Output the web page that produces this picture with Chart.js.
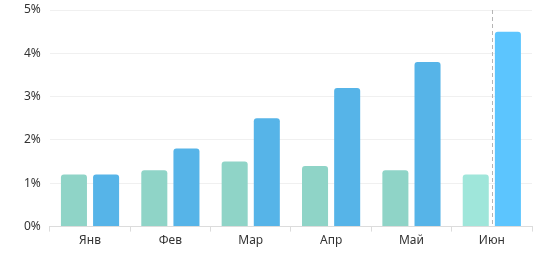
<!DOCTYPE html>
<html><head><meta charset="utf-8">
<script src="https://cdn.jsdelivr.net/npm/chart.js@4"></script>
<style>html,body{margin:0;padding:0;background:#fff}#wrap{width:542px;height:256px}</style>
</head><body><div id="wrap"><canvas id="c" width="542" height="256"></canvas></div>
<script>
const categories = ['Янв','Фев','Мар','Апр','Май','Июн'];
const seriesA = [1.2, 1.3, 1.5, 1.4, 1.3, 1.2];
const seriesB = [1.2, 1.8, 2.5, 3.2, 3.8, 4.5];
const yTicks = [0,1,2,3,4,5];
const highlightIndex = 5;

const colA = categories.map((_,i)=> i===highlightIndex ? '#9fe6da' : '#8fd4c7');
const colB = categories.map((_,i)=> i===highlightIndex ? '#5cc5fe' : '#56b4e8');

const hoverLine = {
  id:'hoverLine',
  afterDatasetsDraw(chart){
    const x = chart.scales.x.getPixelForValue(highlightIndex);
    const {top,bottom} = chart.chartArea;
    const ctx = chart.ctx;
    ctx.save();
    ctx.strokeStyle = '#b5b5b5';
    ctx.lineWidth = 1;
    ctx.setLineDash([4,3]);
    ctx.beginPath();
    ctx.moveTo(Math.round(x)+0.5, top);
    ctx.lineTo(Math.round(x)+0.5, bottom);
    ctx.stroke();
    ctx.restore();
  }
};

new Chart(document.getElementById('c'), {
  type:'bar',
  data:{labels:categories, datasets:[
    {data:seriesA, backgroundColor:colA, borderRadius:{topLeft:3,topRight:3}, borderSkipped:'bottom', categoryPercentage:0.8, barPercentage:0.81},
    {data:seriesB, backgroundColor:colB, borderRadius:{topLeft:3,topRight:3}, borderSkipped:'bottom', categoryPercentage:0.8, barPercentage:0.81}
  ]},
  options:{
    responsive:false, animation:false, devicePixelRatio:1,
    layout:{padding:{top:10,right:10,left:15,bottom:6}},
    plugins:{legend:{display:false}, tooltip:{enabled:false}},
    scales:{
      x:{
        grid:{drawOnChartArea:false, drawTicks:true, tickLength:5, color:'#dcdcdc'},
        border:{color:'#dcdcdc'},
        ticks:{color:'#333', font:{family:'Noto Sans', size:12}, padding:2}
      },
      y:{
        min:0, max:5,
        afterBuildTicks(s){ s.ticks = yTicks.map(v=>({value:v})); },
        afterFit(s){ s.paddingTop = 0; },
        grid:{color:'#f0f0f0', drawTicks:false},
        border:{display:false},
        ticks:{color:'#333', font:{family:'Noto Sans', size:12}, padding:9, callback:v=>v+'%'}
      }
    }
  },
  plugins:[hoverLine]
});
</script></body></html>
